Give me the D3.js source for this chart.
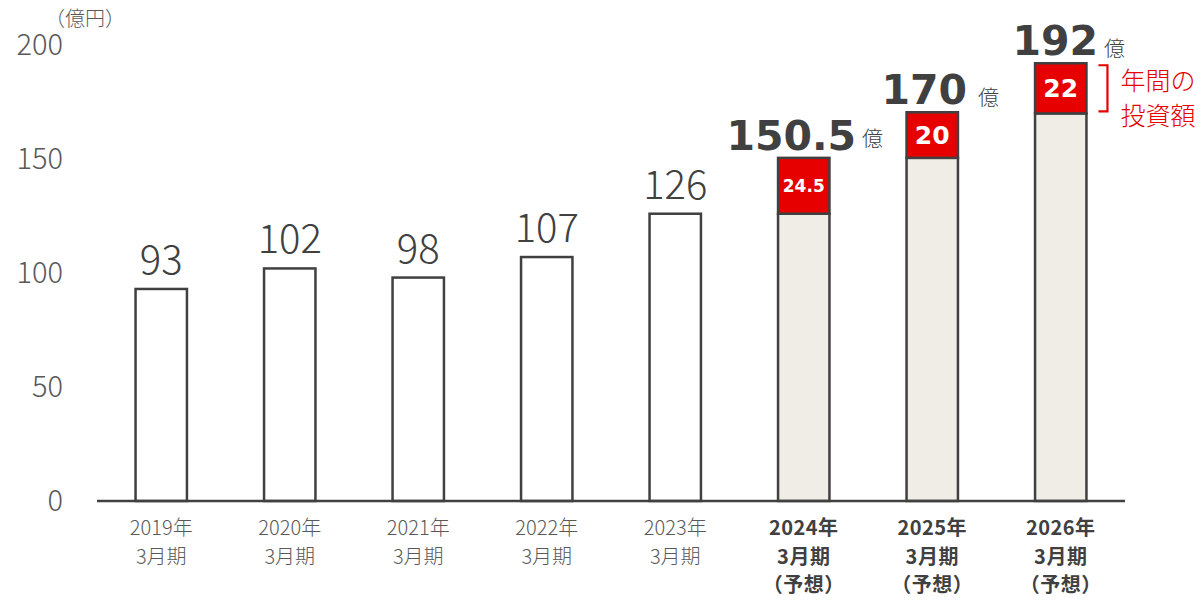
<!DOCTYPE html>
<html>
<head>
<meta charset="utf-8">
<script src="https://cdn.jsdelivr.net/npm/d3@7"></script>
<style>
  body { margin: 0; background: #fff; }
  text { font-family: "Noto Sans CJK JP", "Noto Sans", sans-serif; }
</style>
</head>
<body>
<div id="chart"></div>
<script>
// data
const years = ["2019年", "2020年", "2021年", "2022年", "2023年", "2024年", "2025年", "2026年"];
const forecast = [false, false, false, false, false, true, true, true];
const baseValues = [93, 102, 98, 107, 126, 126, 150.5, 170];
const investValues = [0, 0, 0, 0, 0, 24.5, 20, 22];
const totalLabels = ["93", "102", "98", "107", "126", "150.5", "170", "192"];
const investLabels = ["", "", "", "", "", "24.5", "20", "22"];
const yTicks = [0, 50, 100, 150, 200];

const width = 1204, height = 600;
const x0 = 97, x1 = 1125, yBase = 501, yTop = 45;
const red = "#e60000", dark = "#404040", grey = "#595959";
const boldFont = "'DejaVu Sans', Verdana, sans-serif";

const svg = d3.select("#chart").append("svg")
  .attr("width", width)
  .attr("height", height);

const x = d3.scaleBand().domain(years).range([x0, x1]).paddingInner(0.6).paddingOuter(0.3);
const y = d3.scaleLinear().domain([0, 200]).range([yBase, yTop]);

// y labels
svg.append("g").selectAll("text")
  .data(yTicks)
  .enter().append("text")
  .attr("x", 63)
  .attr("y", d => y(d))
  .attr("dy", "0.36em")
  .attr("text-anchor", "end")
  .style("font-size", "29px")
  .style("font-weight", 300)
  .attr("fill", grey)
  .text(d => d);

svg.append("text")
  .attr("x", 45).attr("y", 26)
  .style("font-size", "20px")
  .style("font-weight", 300)
  .attr("fill", grey)
  .text("（億円）");

const bars = svg.append("g").selectAll("g")
  .data(years)
  .enter().append("g");

// base bars
bars.append("rect")
  .attr("x", d => x(d))
  .attr("y", (d, i) => y(baseValues[i]))
  .attr("width", x.bandwidth())
  .attr("height", (d, i) => y(0) - y(baseValues[i]))
  .attr("fill", (d, i) => forecast[i] ? "#f0ede6" : "#fff")
  .attr("stroke", dark)
  .attr("stroke-width", 2.5);

// investment segment
const inv = bars.filter((d, i) => investValues[i] > 0);
inv.append("rect")
  .attr("x", d => x(d))
  .attr("y", d => { const i = years.indexOf(d); return y(baseValues[i] + investValues[i]); })
  .attr("width", x.bandwidth())
  .attr("height", d => { const i = years.indexOf(d); return y(baseValues[i]) - y(baseValues[i] + investValues[i]); })
  .attr("fill", red)
  .attr("stroke", dark)
  .attr("stroke-width", 2.5);

inv.append("text")
  .attr("x", d => x(d) + x.bandwidth() / 2)
  .attr("y", d => { const i = years.indexOf(d); return y(baseValues[i] + investValues[i] / 2); })
  .attr("dy", "0.36em")
  .attr("text-anchor", "middle")
  .style("font-family", boldFont)
  .style("font-size", d => investLabels[years.indexOf(d)].length > 2 ? "17px" : "25px")
  .style("font-weight", "bold")
  .attr("fill", "#fff")
  .text(d => investLabels[years.indexOf(d)]);

// total labels for actuals
bars.filter((d, i) => !forecast[i]).append("text")
  .attr("x", d => x(d) + x.bandwidth() / 2)
  .attr("y", d => y(baseValues[years.indexOf(d)]) - 15)
  .attr("text-anchor", "middle")
  .style("font-size", "40px")
  .style("font-weight", 300)
  .attr("fill", dark)
  .text(d => totalLabels[years.indexOf(d)]);

// forecast total labels (bold + 億)
const fLabel = bars.filter((d, i) => forecast[i]).append("text")
  .attr("x", d => x(d) + x.bandwidth() / 2 + (years.indexOf(d) === 5 ? 1 : 8))
  .attr("y", d => { const i = years.indexOf(d); return y(baseValues[i] + investValues[i]) - 8; })
  .attr("text-anchor", "middle")
  .attr("fill", dark);
fLabel.append("tspan")
  .style("font-family", boldFont)
  .style("font-size", "41px")
  .style("font-weight", "bold")
  .text(d => totalLabels[years.indexOf(d)]);
fLabel.append("tspan")
  .attr("dx", d => years.indexOf(d) === 6 ? 11 : 6)
  .attr("dy", d => years.indexOf(d) === 5 ? -4 : 1)
  .style("font-size", "21px")
  .style("font-weight", 300)
  .text("億");

// axis line
svg.append("line")
  .attr("x1", x0).attr("x2", x1)
  .attr("y1", yBase).attr("y2", yBase)
  .attr("stroke", dark)
  .attr("stroke-width", 2.5);

// x labels
const xl = svg.append("g").selectAll("text")
  .data(years)
  .enter().append("text")
  .attr("x", d => x(d) + x.bandwidth() / 2)
  .attr("y", 535)
  .attr("text-anchor", "middle")
  .style("font-size", "20px")
  .style("letter-spacing", (d, i) => forecast[i] ? "0.5px" : "0px")
  .style("font-weight", (d, i) => forecast[i] ? "bold" : 300)
  .attr("fill", (d, i) => forecast[i] ? dark : grey);
xl.append("tspan").text(d => d);
xl.append("tspan")
  .attr("x", d => x(d) + x.bandwidth() / 2)
  .attr("dy", 28.5)
  .text("3月期");
xl.filter((d, i) => forecast[i]).append("tspan")
  .attr("x", d => x(d) + x.bandwidth() / 2)
  .attr("dy", 28.5)
  .text("（予想）");

// bracket for annual investment
const last = years[years.length - 1];
const li = years.length - 1;
const bx = x(last) + x.bandwidth() + 21;
const bt = y(baseValues[li] + investValues[li]) + 2;
const bb = y(baseValues[li]) - 2;
svg.append("path")
  .attr("d", `M${bx - 9},${bt} H${bx} V${bb} H${bx - 9}`)
  .attr("fill", "none")
  .attr("stroke", red)
  .attr("stroke-width", 2.2);
svg.append("text")
  .attr("x", bx + 13).attr("y", bt + 25)
  .style("font-size", "25px")
  .style("font-weight", 300)
  .attr("fill", red)
  .text("年間の");
svg.append("text")
  .attr("x", bx + 13).attr("y", bt + 60)
  .style("font-size", "25px")
  .style("font-weight", 300)
  .attr("fill", red)
  .text("投資額");
</script>
</body>
</html>
